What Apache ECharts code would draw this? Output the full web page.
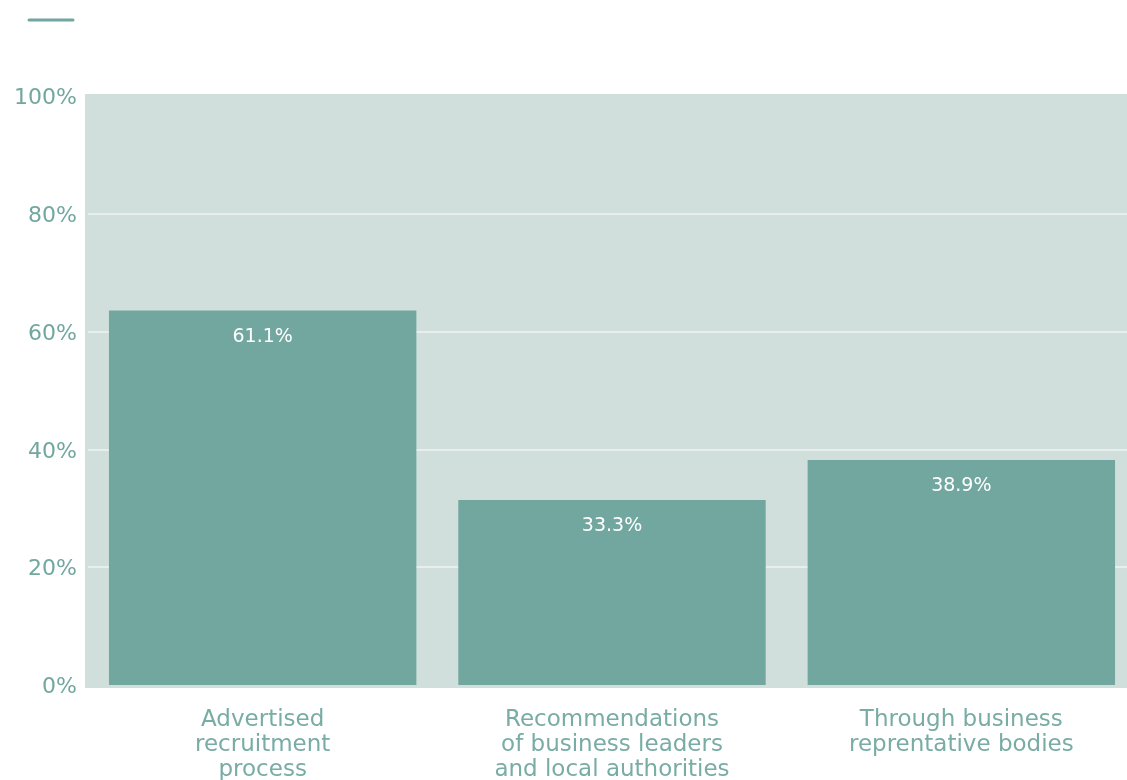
<html>
<head>
    <meta charset="utf-8" />
    <title>Recruitment channels</title>
    <script src="https://cdn.jsdelivr.net/npm/echarts@6/dist/echarts.min.js"></script>
    <style>
        body { margin: 0; background: #ffffff; }
    </style>
</head>
<body>
    <div id="chart" style="width: 1127px;height:780px;"></div>
    <script type="text/javascript">
        // categories and values
        var categories = [
            'Advertised\nrecruitment\nprocess',
            'Recommendations\nof business leaders\nand local authorities',
            'Through business\nreprentative bodies'
        ];
        // bar heights as drawn
        var barValues = [63.6, 31.4, 38.2];
        // printed labels
        var barLabels = ['61.1%', '33.3%', '38.9%'];
        var yTicks = [0, 20, 40, 60, 80, 100];

        var teal = '#72a7a0';
        var panel = '#d0dfdc';
        var gridLine = '#e6efed';
        var chart = echarts.init(document.getElementById('chart'));
        var option = {
            animation: false,
            textStyle: { fontFamily: 'DejaVu Sans' },
            grid: {
                left: 88,
                top: 96,
                width: 1048,
                height: 589,
                outerBoundsMode: 'none',
                containLabel: false
            },
            graphic: [{
                type: 'line',
                shape: { x1: 29, y1: 20, x2: 73, y2: 20 },
                style: { stroke: teal, lineWidth: 3, lineCap: 'round' }
            }, {
                // plot panel
                type: 'rect',
                shape: { x: 85, y: 94, width: 1042, height: 594 },
                style: { fill: panel },
                z: -1
            }],
            xAxis: {
                type: 'category',
                data: categories,
                axisLine: { show: false },
                axisTick: { show: false },
                axisLabel: {
                    color: '#78aca5',
                    fontSize: 23,
                    lineHeight: 25,
                    margin: 23
                }
            },
            yAxis: {
                type: 'value',
                min: yTicks[0],
                max: yTicks[yTicks.length - 1],
                interval: 20,
                axisLine: { show: false },
                axisTick: { show: false },
                // first and last lines blend into the panel
                splitLine: {
                    lineStyle: {
                        color: [panel, gridLine, gridLine, gridLine, gridLine, panel],
                        width: 2
                    }
                },
                axisLabel: {
                    color: teal,
                    fontSize: 22,
                    margin: 11,
                    formatter: function (v) { return '{v|' + v + '%}'; },
                    rich: {
                        v: { color: teal, fontSize: 22, padding: [5, 0, 0, 0] }
                    }
                }
            },
            series: [{
                type: 'bar',
                data: barValues,
                barCategoryGap: '12%',
                itemStyle: { color: teal },
                label: {
                    show: true,
                    position: 'insideTop',
                    distance: 17,
                    color: '#ffffff',
                    fontSize: 19,
                    formatter: function (p) { return barLabels[p.dataIndex]; }
                }
            }]
        };
        chart.setOption(option);
    </script>
</body>
</html>
